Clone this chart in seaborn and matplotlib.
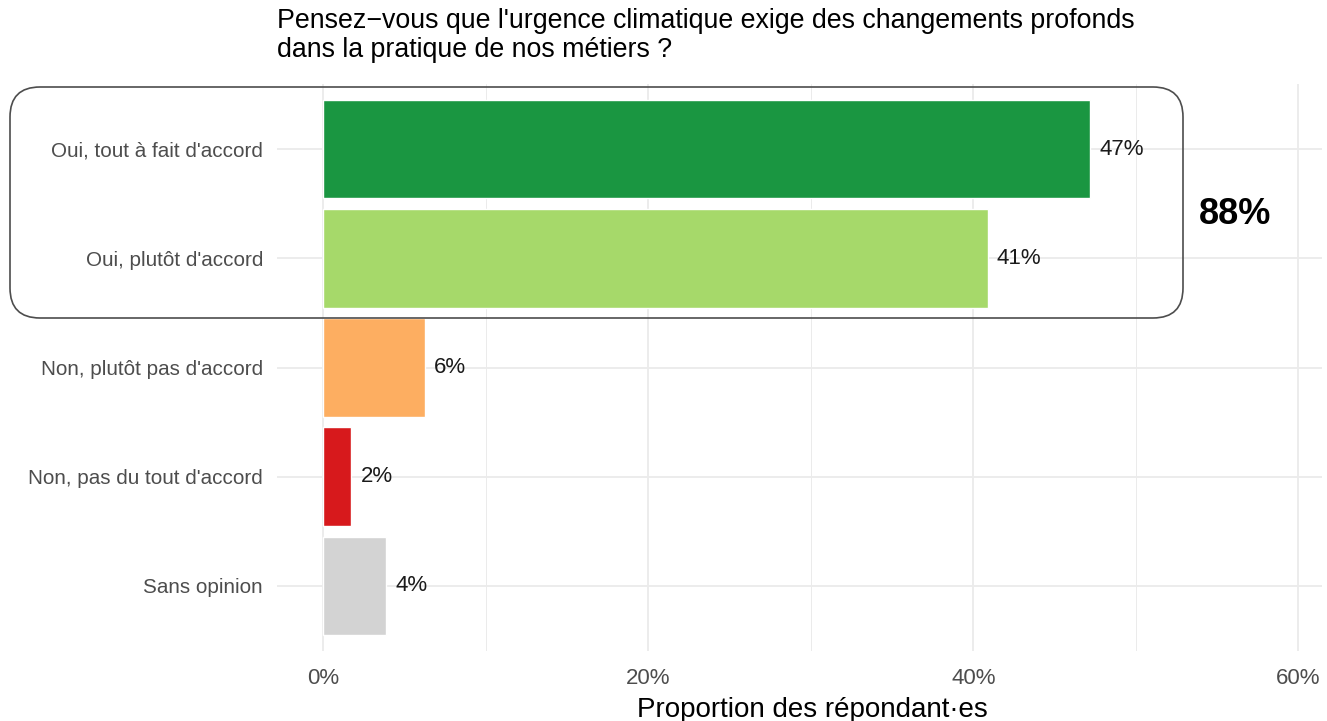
import matplotlib
matplotlib.use("Agg")
import matplotlib.pyplot as plt
from matplotlib.patches import FancyBboxPatch
from matplotlib.ticker import FuncFormatter, MultipleLocator
import pandas as pd
import seaborn as sns

# Data
categories = [
    "Oui, tout à fait d'accord",
    "Oui, plutôt d'accord",
    "Non, plutôt pas d'accord",
    "Non, pas du tout d'accord",
    "Sans opinion",
]
proportions = [47.2, 40.9, 6.3, 1.75, 3.9]
colors = ["#1a9641", "#a6d96a", "#fdae61", "#d7191c", "#d3d3d3"]
agree_total_label = "88%"

title = ("Pensez\u2212vous que l'urgence climatique exige des changements profonds\n"
         "dans la pratique de nos métiers ?")
x_label = "Proportion des répondant·es"

df = pd.DataFrame({"reponse": categories, "prop": proportions})

sns.set_theme(style="whitegrid")
plt.rcParams["font.family"] = ["Liberation Sans", "DejaVu Sans"]

W, H = 1327, 721
fig = plt.figure(figsize=(W / 100, H / 100), dpi=100)
ax = fig.add_axes([277 / W, 1 - 651 / H, (1322 - 277) / W, (651 - 84) / H])

sns.barplot(data=df, x="prop", y="reponse", hue="reponse",
            palette=dict(zip(categories, colors)), order=categories,
            width=0.9, legend=False, saturation=1, ax=ax)

# value labels
for i, v in enumerate(proportions):
    ax.text(v + 0.55, i, f"{round(v)}%", va="center", ha="left",
            fontsize=16, color="#1a1a1a")

ax.set_xlim(-2.83, 61.45)
ax.set_ylim(4.6, -0.6)
ax.xaxis.set_major_locator(MultipleLocator(20))
ax.xaxis.set_minor_locator(MultipleLocator(10))
ax.xaxis.set_major_formatter(FuncFormatter(lambda v, p: f"{v:.0f}%"))
ax.grid(which="major", color="#ebebeb", linewidth=1.3)
ax.grid(which="minor", axis="x", color="#ebebeb", linewidth=0.7)
ax.set_axisbelow(True)
for s in ax.spines.values():
    s.set_visible(False)
ax.tick_params(axis="both", length=0, labelcolor="#4d4d4d")
ax.tick_params(axis="x", pad=12, labelsize=16)
ax.tick_params(axis="y", pad=10, labelsize=14.9)
ax.set_ylabel("")
ax.set_xlabel(x_label, fontsize=20, color="black", labelpad=6)
ax.xaxis.label.set_x(0.512)

fig.text(277 / W, 1 - 8 / H, title, ha="left", va="top", fontsize=19.3,
         color="black", linespacing=1.13)

# rounded frame around the "Oui" answers
box = FancyBboxPatch((0.10, (H - 318) / 100), 11.73, 2.31,
                     boxstyle="round,pad=0,rounding_size=0.3",
                     transform=fig.dpi_scale_trans, fill=False,
                     edgecolor="#4d4d4d", linewidth=1.2)
fig.patches.append(box)
fig.text(1235 / W, 1 - 214 / H, agree_total_label, ha="center", va="center",
         fontsize=26, fontweight="bold", color="black")

fig.savefig("out.png", dpi=100)
